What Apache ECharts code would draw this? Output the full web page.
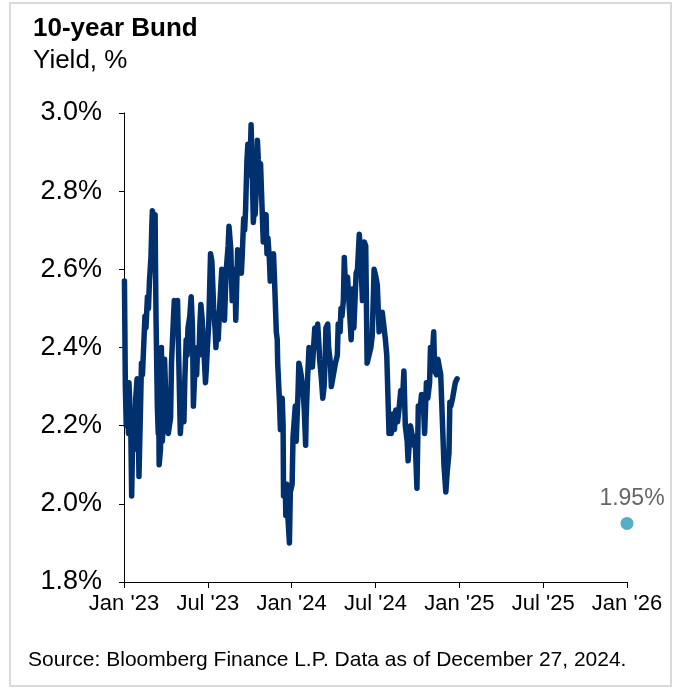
<!DOCTYPE html>
<html>
<head>
<meta charset="utf-8">
<script src="https://cdn.jsdelivr.net/npm/echarts@6/dist/echarts.min.js"></script>
<style>
html,body{margin:0;padding:0;background:#fff;}
#c{width:675px;height:689px;}
</style>
</head>
<body>
<div id="c"></div>
<script>
const dates = [
"2023-01-02","2023-01-04","2023-01-06","2023-01-09","2023-01-11","2023-01-12","2023-01-16","2023-01-18","2023-01-20","2023-01-23",
"2023-01-25","2023-01-27","2023-01-30","2023-02-01","2023-02-03","2023-02-06","2023-02-08","2023-02-10","2023-02-13","2023-02-15",
"2023-02-17","2023-02-20","2023-02-22","2023-02-24","2023-02-27","2023-03-01","2023-03-02","2023-03-06","2023-03-08","2023-03-09",
"2023-03-10","2023-03-13","2023-03-15","2023-03-16","2023-03-17","2023-03-20","2023-03-22","2023-03-24","2023-03-27","2023-03-29",
"2023-03-31","2023-04-04","2023-04-06","2023-04-11","2023-04-13","2023-04-17","2023-04-19","2023-04-21","2023-04-24","2023-04-26",
"2023-04-28","2023-05-02","2023-05-04","2023-05-08","2023-05-10","2023-05-12","2023-05-15","2023-05-17","2023-05-19","2023-05-23",
"2023-05-26","2023-05-29","2023-05-31","2023-06-02","2023-06-05","2023-06-07","2023-06-09","2023-06-12","2023-06-14","2023-06-16",
"2023-06-19","2023-06-21","2023-06-23","2023-06-26","2023-06-28","2023-06-30","2023-07-03","2023-07-05","2023-07-07","2023-07-10",
"2023-07-12","2023-07-14","2023-07-17","2023-07-19","2023-07-21","2023-07-24","2023-07-26","2023-07-28","2023-08-01","2023-08-03",
"2023-08-07","2023-08-09","2023-08-11","2023-08-15","2023-08-17","2023-08-21","2023-08-23","2023-08-24","2023-08-28","2023-08-30",
"2023-09-01","2023-09-05","2023-09-07","2023-09-11","2023-09-13","2023-09-15","2023-09-18","2023-09-20","2023-09-22","2023-09-25",
"2023-09-27","2023-09-29","2023-10-02","2023-10-04","2023-10-06","2023-10-09","2023-10-11","2023-10-13","2023-10-16","2023-10-18",
"2023-10-20","2023-10-23","2023-10-25","2023-10-27","2023-10-31","2023-11-02","2023-11-06","2023-11-08","2023-11-10","2023-11-13",
"2023-11-15","2023-11-17","2023-11-20","2023-11-22","2023-11-24","2023-11-28","2023-11-30","2023-12-01","2023-12-05","2023-12-07",
"2023-12-11","2023-12-13","2023-12-14","2023-12-18","2023-12-19","2023-12-21","2023-12-22","2023-12-27","2023-12-29",
"2024-01-02","2024-01-04","2024-01-09","2024-01-11","2024-01-15","2024-01-17","2024-01-19","2024-01-22","2024-01-24","2024-01-26",
"2024-01-29","2024-02-01","2024-02-02","2024-02-05","2024-02-08","2024-02-12","2024-02-15","2024-02-20","2024-02-22","2024-02-26",
"2024-02-28","2024-03-01","2024-03-05","2024-03-08","2024-03-11","2024-03-13","2024-03-15","2024-03-19","2024-03-21","2024-03-25",
"2024-03-27","2024-04-02","2024-04-05","2024-04-09","2024-04-11","2024-04-15","2024-04-17","2024-04-19","2024-04-22","2024-04-24",
"2024-04-26","2024-05-01","2024-05-06","2024-05-09","2024-05-13","2024-05-15","2024-05-20","2024-05-23","2024-05-27","2024-05-29",
"2024-06-03","2024-06-05","2024-06-07","2024-06-10","2024-06-13","2024-06-17","2024-06-21","2024-06-24","2024-06-28","2024-07-02",
"2024-07-05","2024-07-09","2024-07-12","2024-07-16","2024-07-19","2024-07-23","2024-07-26","2024-07-31","2024-08-02","2024-08-05",
"2024-08-08","2024-08-12","2024-08-15","2024-08-19","2024-08-22","2024-08-26","2024-08-30","2024-09-02","2024-09-05","2024-09-09",
"2024-09-11","2024-09-16","2024-09-19","2024-09-23","2024-09-26","2024-09-30","2024-10-03","2024-10-07","2024-10-10","2024-10-14",
"2024-10-17","2024-10-21","2024-10-24","2024-10-28","2024-10-30","2024-11-04","2024-11-06","2024-11-08","2024-11-12","2024-11-15",
"2024-11-18","2024-11-21","2024-11-25","2024-11-28","2024-12-02","2024-12-05","2024-12-09","2024-12-11","2024-12-13","2024-12-17",
"2024-12-20","2024-12-23","2024-12-27"
];
const yields = [
2.57,2.30,2.20,2.24,2.18,2.31,2.20,2.02,2.15,2.18,
2.14,2.27,2.32,2.27,2.07,2.24,2.36,2.33,2.42,2.48,
2.45,2.53,2.50,2.57,2.63,2.72,2.75,2.72,2.74,2.60,
2.48,2.25,2.18,2.27,2.10,2.14,2.40,2.16,2.22,2.37,
2.30,2.20,2.18,2.22,2.36,2.47,2.52,2.49,2.45,2.52,
2.40,2.18,2.22,2.25,2.21,2.32,2.42,2.38,2.45,2.48,
2.53,2.45,2.25,2.31,2.37,2.33,2.40,2.38,2.46,2.51,
2.47,2.42,2.38,2.31,2.35,2.40,2.46,2.55,2.64,2.62,
2.56,2.50,2.45,2.40,2.45,2.42,2.47,2.52,2.60,2.58,
2.47,2.54,2.60,2.66,2.71,2.65,2.56,2.52,2.56,2.60,
2.47,2.65,2.60,2.63,2.59,2.64,2.73,2.70,2.75,2.88,
2.92,2.84,2.88,2.97,2.88,2.72,2.76,2.74,2.82,2.93,
2.88,2.84,2.87,2.80,2.67,2.72,2.74,2.64,2.68,2.63,
2.57,2.59,2.60,2.64,2.58,2.44,2.42,2.36,2.26,2.19,
2.27,2.20,2.02,2.04,1.97,2.05,2.00,1.90,2.03,
2.05,2.17,2.25,2.16,2.28,2.36,2.35,2.33,2.31,2.30,
2.24,2.15,2.22,2.32,2.40,2.37,2.35,2.45,2.40,2.46,
2.42,2.37,2.32,2.27,2.30,2.36,2.45,2.46,2.40,2.36,
2.30,2.34,2.36,2.38,2.46,2.44,2.50,2.48,2.52,2.63,
2.57,2.58,2.48,2.42,2.55,2.45,2.59,2.60,2.69,2.66,
2.52,2.55,2.67,2.66,2.36,2.38,2.40,2.43,2.60,2.58,
2.56,2.44,2.48,2.49,2.46,2.42,2.38,2.18,2.21,2.18,
2.23,2.19,2.24,2.21,2.24,2.29,2.27,2.34,2.20,2.16,
2.11,2.20,2.18,2.15,2.17,2.04,2.25,2.24,2.28,2.26,
2.18,2.31,2.27,2.31,2.40,2.40,2.44,2.34,2.33,2.37,
2.37,2.33,2.20,2.10,2.03,2.08,2.13,2.26,2.25,2.27,
2.29,2.31,2.32
];
const forecastDate = ["2026-01-01"];
const forecastValue = [1.95];
const xTickLabels = ["Jan '23","Jul '23","Jan '24","Jul '24","Jan '25","Jul '25","Jan '26"];
const yTickValues = [1.8, 2.0, 2.2, 2.4, 2.6, 2.8, 3.0];

function toMonths(s){
  const p = s.split('-').map(Number);
  const dim = new Date(p[0], p[1], 0).getDate();
  return (p[0]-2023)*12 + (p[1]-1) + (p[2]-1)/dim;
}
const lineData = dates.map((d,i)=>[toMonths(d), yields[i]]);
const fcData = forecastDate.map((d,i)=>[toMonths(d), forecastValue[i]]);

const FONT = "'Liberation Sans', Arial, sans-serif";
const chart = echarts.init(document.getElementById('c'), null, {renderer:'canvas', width:675, height:689});
chart.setOption({
  animation:false,
  backgroundColor:'#fff',
  title:{
    text:'10-year Bund',
    subtext:'Yield, %',
    left:28, top:11,
    itemGap:6,
    textStyle:{fontFamily:FONT, fontWeight:'bold', fontSize:26, color:'#000'},
    subtextStyle:{fontFamily:FONT, fontSize:26, color:'#000'}
  },
  grid:{left:124, right:48, top:113, bottom:107},
  xAxis:{
    type:'value', min:0, max:36, interval:6,
    axisLine:{show:true, lineStyle:{color:'#000', width:1}},
    axisTick:{show:true, length:6, lineStyle:{color:'#000'}},
    axisLabel:{
      fontFamily:FONT, fontSize:22, color:'#000', margin:11,
      formatter:v=>xTickLabels[Math.round(v/6)]
    },
    splitLine:{show:false}
  },
  yAxis:{
    type:'value', min:yTickValues[0], max:yTickValues[yTickValues.length-1], interval:0.2,
    axisLine:{show:true, lineStyle:{color:'#000', width:1}},
    axisTick:{show:true, length:5, lineStyle:{color:'#000'}},
    axisLabel:{fontFamily:FONT, fontSize:27, color:'#000', margin:22,
      formatter:v=>v.toFixed(1)+'%'},
    splitLine:{show:false}
  },
  series:[
    {
      type:'line', data:lineData, showSymbol:false, symbol:'none',
      lineStyle:{color:'#00306e', width:5.5, cap:'round', join:'round'},
      z:3
    },
    {
      type:'scatter', data:fcData, symbolSize:13, clip:false,
      itemStyle:{color:'#2a98b8'},
      label:{show:true, position:'top', distance:7, offset:[5,0],
        formatter:p=>p.value[1].toFixed(2)+'%',
        fontFamily:FONT, fontSize:23, color:'#404040'},
      z:4
    }
  ],
  graphic:[
    {type:'rect', shape:{x:10, y:3, width:661, height:683},
     style:{fill:'none', stroke:'#d9d9d9', lineWidth:2}, silent:true},
    {type:'text', left:28, top:650,
     style:{text:'Source: Bloomberg Finance L.P. Data as of December 27, 2024.',
       font:"21px 'Liberation Sans', Arial, sans-serif", fill:'#000'}}
  ]
});
</script>
</body>
</html>
